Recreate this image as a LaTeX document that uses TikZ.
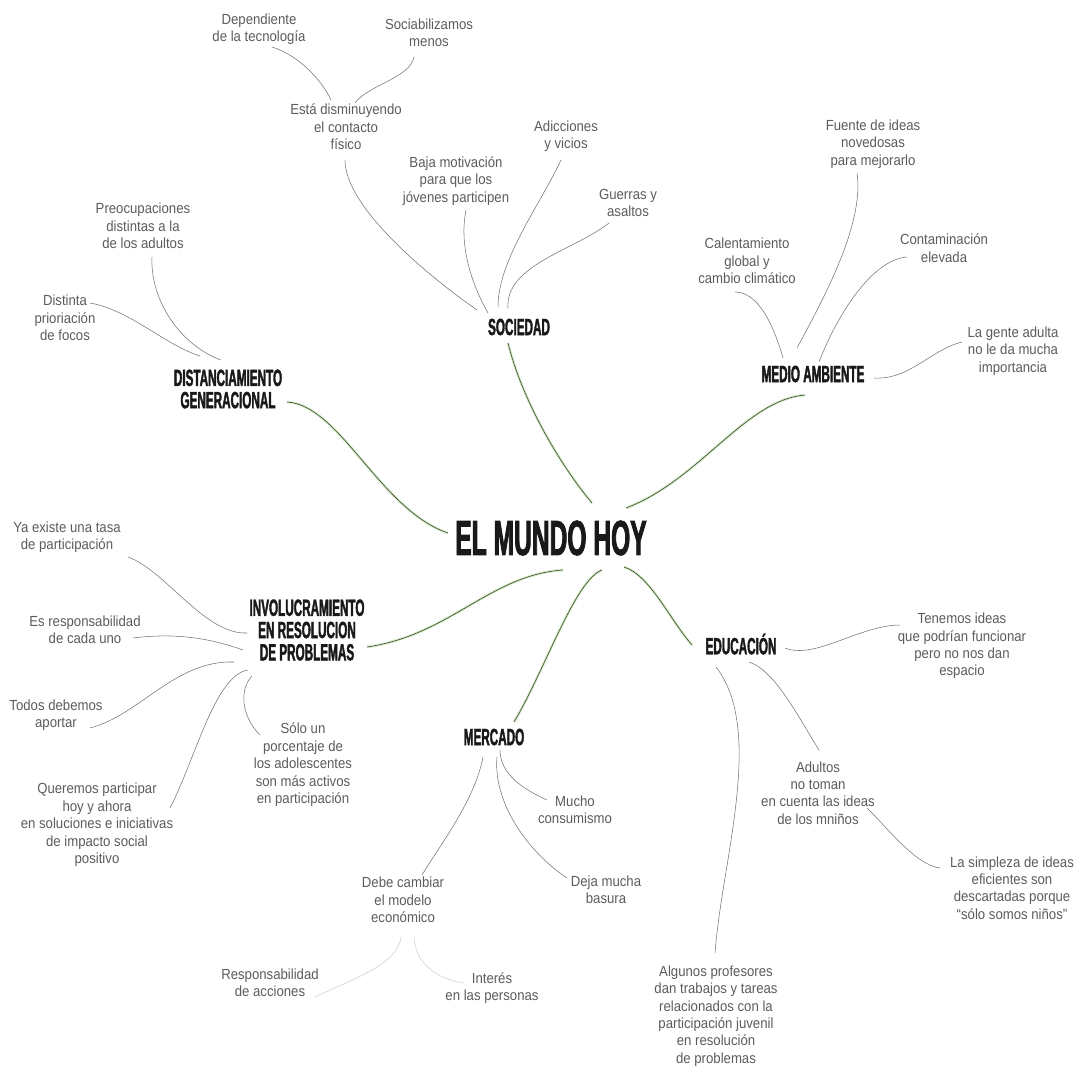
\documentclass[tikz,border=0pt]{standalone}
\usepackage{fontspec}
\usetikzlibrary{calc}
\newfontfamily\headfont[FakeStretch=0.5,FakeBold=1.6]{Liberation Sans}
\newfontfamily\leaffont[FakeStretch=0.9]{Liberation Sans}
\definecolor{leafgray}{RGB}{92,92,92}
\definecolor{twiggray}{RGB}{112,112,112}
\definecolor{glowgreen}{RGB}{150,215,110}

\begin{document}
\begin{tikzpicture}[x=0.03cm,y=-0.03cm,
  hub/.style={font=\headfont\bfseries\fontsize{42}{42}\selectfont,text=black!90,inner sep=0pt},
  head/.style={font=\headfont\bfseries\fontsize{20}{19}\selectfont,text=black!90,align=center,inner sep=0pt},
  leaf/.style={font=\leaffont\fontsize{12.5}{14.9}\selectfont,text=leafgray,align=center,inner sep=0pt},
  twig/.style={draw=twiggray,line width=0.45pt},
  faint/.style={draw=black!18,line width=0.5pt},
  branch/.style={draw=black!75,line width=0.5pt,
    preaction={draw=glowgreen,line width=2.2pt,opacity=0.45}}
]
  \useasboundingbox (0,0) rectangle (1077,1065);

  % centre and main themes
  \node[hub]  (title) at (551,538) {EL MUNDO HOY};
  \node[head] (soc)   at (519,327) {SOCIEDAD};
  \node[head] (dist)  at (228,389) {DISTANCIAMIENTO\\GENERACIONAL};
  \node[head] (medio) at (813,374) {MEDIO AMBIENTE};
  \node[head] (inv)   at (307,630) {INVOLUCRAMIENTO\\EN RESOLUCION\\DE PROBLEMAS};
  \node[head] (edu)   at (741,644) {EDUCACIÓN};
  \node[head] (merc)  at (494,737) {MERCADO};

  % sociedad
  \node[leaf] (dep)  at (259,29)  {Dependiente\\de la tecnología};
  \node[leaf] (soci) at (429,33)  {Sociabilizamos\\menos};
  \node[leaf] (est)  at (346,127) {Está disminuyendo\\el contacto\\físico};
  \node[leaf] (baja) at (456,181) {Baja motivación\\para que los\\jóvenes participen};
  \node[leaf] (adic) at (566,136) {Adicciones\\y vicios};
  \node[leaf] (guer) at (628,203) {Guerras y\\asaltos};

  % medio ambiente
  \node[leaf] (fuen)  at (873,144)  {Fuente de ideas\\novedosas\\para mejorarlo};
  \node[leaf] (cal)   at (747,261)  {Calentamiento\\global y\\cambio climático};
  \node[leaf] (cont)  at (944,248)  {Contaminación\\elevada};
  \node[leaf] (gente) at (1013,351) {La gente adulta\\no le da mucha\\importancia};

  % distanciamiento
  \node[leaf] (preo)  at (143,226) {Preocupaciones\\distintas a la\\de los adultos};
  \node[leaf] (disti) at (65,318)  {Distinta\\prioriación\\de focos};

  % involucramiento
  \node[leaf] (ya)    at (67,537)  {Ya existe una tasa\\de participación};
  \node[leaf] (esres) at (85,630)  {Es responsabilidad\\de cada uno};
  \node[leaf] (todos) at (56,715)  {Todos debemos\\aportar};
  \node[leaf] (solo)  at (303,765) {Sólo un\\porcentaje de\\los adolescentes\\son más activos\\en participación};
  \node[leaf] (quer)  at (97,825)  {Queremos participar\\hoy y ahora\\en soluciones e iniciativas\\de impacto social\\positivo};

  % educacion
  \node[leaf] (tene) at (962,646)  {Tenemos ideas\\que podrían funcionar\\pero no nos dan\\espacio};
  \node[leaf] (adul) at (818,793)  {Adultos\\no toman\\en cuenta las ideas\\de los mniños};
  \node[leaf] (simp) at (1012,888) {La simpleza de ideas\\eficientes son\\descartadas porque\\“sólo somos niños”};
  \node[leaf] (algu) at (716,1016) {Algunos profesores\\dan trabajos y tareas\\relacionados con la\\participación juvenil\\en resolución\\de problemas};

  % mercado
  \node[leaf] (mucho) at (575,810) {Mucho\\consumismo};
  \node[leaf] (deja)  at (606,890) {Deja mucha\\basura};
  \node[leaf] (debe)  at (403,900) {Debe cambiar\\el modelo\\económico};
  \node[leaf] (resp)  at (270,983) {Responsabilidad\\de acciones};
  \node[leaf] (inte)  at (492,988) {Interés\\en las personas};

  % main branches
  \draw[branch] ($(soc)+(-11,16)$) .. controls (522,400) and (560,465) .. ($(title)+(41,-35)$);
  \draw[branch] ($(title)+(75,-30)$) .. controls (700,480) and (745,400) .. ($(medio)+(-8,21)$);
  \draw[branch] ($(dist)+(59,13)$) .. controls (340,405) and (380,510) .. ($(title)+(-103,-5)$);
  \draw[branch] ($(inv)+(60,17)$) .. controls (450,635) and (490,575) .. ($(title)+(12,32)$);
  \draw[branch] ($(title)+(51,32)$) .. controls (575,580) and (545,670) .. ($(merc)+(20,-15)$);
  \draw[branch] ($(title)+(73,29)$) .. controls (650,575) and (670,620) .. ($(edu)+(-49,1)$);

  % sociedad twigs
  \draw[twig] ($(dep)+(13,18)$) .. controls (298,55) and (322,80) .. ($(est)+(-15,-27)$);
  \draw[twig] ($(soci)+(-15,24)$) .. controls (410,78) and (368,85) .. ($(est)+(9,-24)$);
  \draw[twig] ($(est)+(-1,33)$) .. controls (345,205) and (420,270) .. ($(soc)+(-42,-17)$);
  \draw[twig] ($(baja)+(10,29)$) .. controls (458,250) and (475,290) .. ($(soc)+(-31,-14)$);
  \draw[twig] ($(adic)+(-5,24)$) .. controls (540,205) and (498,260) .. ($(soc)+(-21,-20)$);
  \draw[twig] ($(guer)+(-19,20)$) .. controls (575,250) and (505,265) .. ($(soc)+(-11,-19)$);

  % medio ambiente twigs
  \draw[twig] ($(fuen)+(-16,29)$) .. controls (865,225) and (820,305) .. ($(medio)+(-16,-26)$);
  \draw[twig] ($(cal)+(-12,31)$) .. controls (760,292) and (775,330) .. ($(medio)+(-30,-16)$);
  \draw[twig] ($(cont)+(-37,9)$) .. controls (870,260) and (835,320) .. ($(medio)+(6,-12)$);
  \draw[twig] ($(gente)+(-51,-9)$) .. controls (930,350) and (910,380) .. ($(medio)+(61,4)$);

  % distanciamiento twigs
  \draw[twig] ($(preo)+(9,31)$) .. controls (150,300) and (180,345) .. ($(dist)+(-7,-29)$);
  \draw[twig] ($(disti)+(25,-15)$) .. controls (130,310) and (165,345) .. ($(dist)+(-28,-33)$);

  % involucramiento twigs
  \draw[twig] ($(ya)+(61,20)$) .. controls (165,570) and (205,635) .. ($(inv)+(-60,3)$);
  \draw[twig] ($(esres)+(48,8)$) .. controls (180,632) and (215,640) .. ($(inv)+(-64,20)$);
  \draw[twig] ($(todos)+(34,13)$) .. controls (140,715) and (175,660) .. ($(inv)+(-73,32)$);
  \draw[twig] ($(quer)+(73,-17)$) .. controls (195,760) and (215,675) .. ($(inv)+(-59,40)$);
  \draw[twig] ($(solo)+(-43,-30)$) .. controls (240,715) and (240,688) .. ($(inv)+(-55,46)$);

  % mercado twigs
  \draw[twig] ($(merc)+(6,13)$) .. controls (500,775) and (525,790) .. ($(mucho)+(-28,-10)$);
  \draw[twig] ($(merc)+(3,20)$) .. controls (493,800) and (525,850) .. ($(deja)+(-39,-12)$);
  \draw[twig] ($(merc)+(-11,20)$) .. controls (475,800) and (440,845) .. ($(debe)+(19,-25)$);
  \draw[faint] ($(debe)+(-2,37)$) .. controls (398,965) and (350,980) .. ($(resp)+(45,14)$);
  \draw[faint] ($(debe)+(11,37)$) .. controls (415,965) and (440,980) .. ($(inte)+(-28,-5)$);

  % educacion twigs
  \draw[twig] ($(edu)+(44,4)$) .. controls (815,660) and (860,625) .. ($(tene)+(-62,-21)$);
  \draw[twig] ($(edu)+(8,18)$) .. controls (775,670) and (800,720) .. ($(adul)+(1,-43)$);
  \draw[twig] ($(edu)+(-25,23)$) .. controls (765,730) and (722,860) .. ($(algu)+(-1,-63)$);
  \draw[twig] ($(adul)+(49,15)$) .. controls (885,825) and (915,865) .. ($(simp)+(-72,-20)$);
\end{tikzpicture}
\end{document}
